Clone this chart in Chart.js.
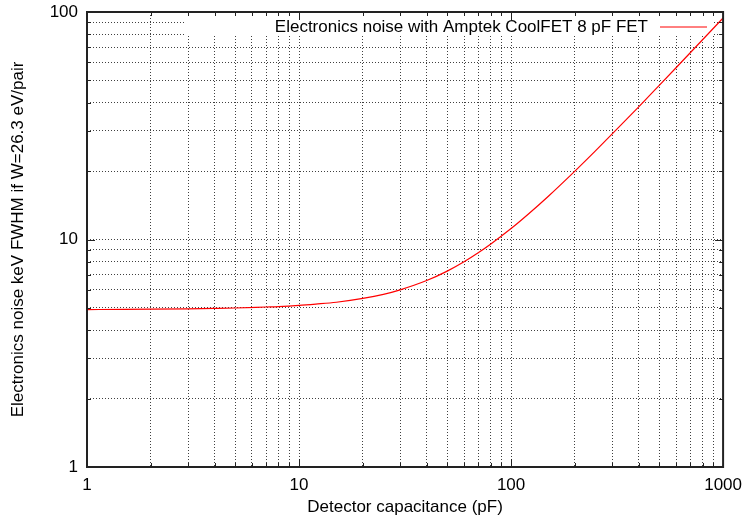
<!DOCTYPE html>
<html>
<head>
<meta charset="utf-8">
<script src="https://cdn.jsdelivr.net/npm/chart.js@4"></script>
<style>
  html, body { margin: 0; padding: 0; background: #fff; }
  #wrap { width: 750px; height: 522px; }
</style>
</head>
<body>
<div id="wrap"><canvas id="noiseChart" width="750" height="522"></canvas></div>
<script>
// Detector capacitance (pF) and electronics noise (keV FWHM)
const capacitance = [1, 1.5, 2, 3, 4, 5, 7, 8, 10, 12, 15, 20, 25, 30, 40, 50, 60, 70, 80, 100,
  120, 150, 200, 250, 300, 400, 500, 600, 700, 800, 1000];
const noiseKeV = [4.92, 4.93, 4.94, 4.96, 4.98, 5.00, 5.05, 5.07, 5.13, 5.20, 5.30, 5.51, 5.74, 6.01, 6.60, 7.26, 7.98, 8.74, 9.53, 11.17,
  12.88, 15.50, 19.98, 24.53, 29.11, 38.3, 47.6, 56.9, 66.2, 75.5, 94.1];

const seriesLabel = 'Electronics noise with Amptek CoolFET 8 pF FET';
const xTickLabels = [1, 10, 100, 1000];
const yTickLabels = [1, 10, 100];
const xTitle = 'Detector capacitance (pF)';
const yTitle = 'Electronics noise keV FWHM if W=26.3 eV/pair';

const FONT = 'Liberation Sans, Arial, Helvetica, sans-serif';

// 1..9 x 10^n between lo and hi, used for the dotted grid
function logTicks(lo, hi) {
  const out = [];
  for (let d = lo; d < hi; d *= 10) {
    for (let k = 1; k < 10; k++) out.push({ value: k * d });
  }
  out.push({ value: hi });
  return out;
}

// white box behind the key, then the key text and sample line
const keyBox = {
  id: 'keyBox',
  beforeDatasetsDraw(chart) {
    const { ctx, chartArea: a } = chart;
    ctx.save();
    ctx.fillStyle = '#fff';
    ctx.fillRect(184, a.top + 1, 530, 35 - a.top);
    ctx.font = '17px ' + FONT;
    ctx.fillStyle = '#000';
    ctx.textAlign = 'right';
    ctx.textBaseline = 'middle';
    ctx.fillText(seriesLabel, 648, 27);
    ctx.strokeStyle = '#ff0000';
    ctx.lineWidth = 1;
    ctx.beginPath();
    ctx.moveTo(660, 27);
    ctx.lineTo(707, 27);
    ctx.stroke();
    ctx.restore();
  }
};

// frame around the plot and inward tick marks on all four sides
const frame = {
  id: 'frame',
  afterDatasetsDraw(chart) {
    const { ctx, chartArea: a, scales } = chart;
    ctx.save();
    ctx.strokeStyle = '#222';
    ctx.lineWidth = 1;
    ctx.beginPath();
    scales.x.ticks.forEach(t => {
      const px = Math.round(scales.x.getPixelForValue(t.value)) + 0.5;
      const len = xTickLabels.includes(t.value) ? 8 : 4;
      ctx.moveTo(px, a.bottom); ctx.lineTo(px, a.bottom - len);
      ctx.moveTo(px, a.top); ctx.lineTo(px, a.top + len);
    });
    scales.y.ticks.forEach(t => {
      const py = Math.round(scales.y.getPixelForValue(t.value)) + 0.5;
      const len = yTickLabels.includes(t.value) ? 8 : 4;
      ctx.moveTo(a.left, py); ctx.lineTo(a.left + len, py);
      ctx.moveTo(a.right, py); ctx.lineTo(a.right - len, py);
    });
    ctx.stroke();
    ctx.lineWidth = 2;
    ctx.strokeRect(a.left, a.top, a.right - a.left, a.bottom - a.top);
    ctx.restore();
  }
};

new Chart(document.getElementById('noiseChart'), {
  type: 'line',
  data: {
    datasets: [{
      label: seriesLabel,
      data: capacitance.map((c, i) => ({ x: c, y: noiseKeV[i] })),
      borderColor: '#ff0000',
      borderWidth: 1.2,
      pointRadius: 0,
      cubicInterpolationMode: 'monotone',
      fill: false
    }]
  },
  options: {
    responsive: false,
    animation: false,
    layout: { padding: { top: 12, right: 24, left: 0, bottom: 0 } },
    plugins: { legend: { display: false }, tooltip: { enabled: false } },
    scales: {
      x: {
        type: 'logarithmic',
        min: 1, max: 1000,
        afterBuildTicks: s => { s.ticks = logTicks(1, 1000); },
        afterFit: s => { s.height = 55; },
        grid: { color: 'rgba(0,0,0,0.75)', lineWidth: 1, drawTicks: false },
        border: { display: false, dash: [1, 2] },
        ticks: {
          autoSkip: false, maxRotation: 0, padding: 8,
          color: '#000', font: { family: FONT, size: 17 },
          callback: v => xTickLabels.includes(v) ? String(v) : ''
        },
        title: { display: true, text: xTitle, color: '#000', font: { family: FONT, size: 17 }, padding: { top: 4 } }
      },
      y: {
        type: 'logarithmic',
        min: 1, max: 100,
        afterBuildTicks: s => { s.ticks = logTicks(1, 100); },
        afterFit: s => { s.width = 87; s.paddingTop = 0; s.paddingBottom = 0; },
        grid: { color: 'rgba(0,0,0,0.75)', lineWidth: 1, drawTicks: false },
        border: { display: false, dash: [1, 2] },
        ticks: {
          autoSkip: false, padding: 9,
          color: '#000', font: { family: FONT, size: 17 },
          callback: v => yTickLabels.includes(v) ? String(v) : ''
        },
        title: { display: true, text: yTitle, color: '#000', font: { family: FONT, size: 17 }, padding: { top: 8, bottom: 4 } }
      }
    }
  },
  plugins: [keyBox, frame]
});
</script>
</body>
</html>
